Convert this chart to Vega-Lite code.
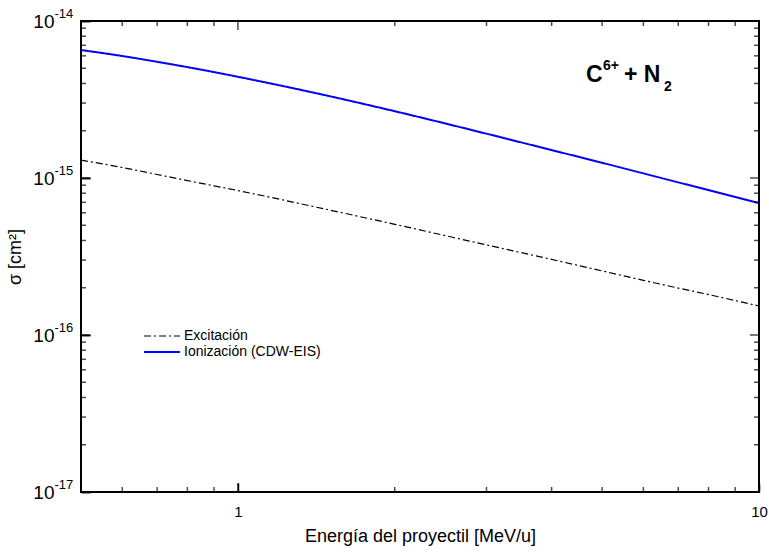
{
  "$schema": "https://vega.github.io/schema/vega-lite/v6.json",
  "width": 678,
  "height": 471,
  "autosize": {"type": "none"},
  "padding": {"left": 81, "top": 21, "right": 10, "bottom": 64},
  "background": "white",
  "config": {
    "font": "Liberation Sans",
    "view": {"stroke": "black", "strokeWidth": 2},
    "axis": {
      "grid": false,
      "domain": false,
      "ticks": true,
      "zindex": 1,
      "tickColor": "black",
      "tickWidth": 1.5,
      "labelColor": "black",
      "titleColor": "black",
      "titleFontWeight": "normal",
      "labelFlush": false
    }
  },
  "datasets": {
    "curvas": [
      {"E": 0.5, "sigma": 1.30e-15, "serie": "Excitación"},
      {"E": 0.6, "sigma": 1.167e-15, "serie": "Excitación"},
      {"E": 0.7, "sigma": 1.053e-15, "serie": "Excitación"},
      {"E": 0.8, "sigma": 9.63e-16, "serie": "Excitación"},
      {"E": 0.9, "sigma": 8.92e-16, "serie": "Excitación"},
      {"E": 1.0, "sigma": 8.32e-16, "serie": "Excitación"},
      {"E": 1.5, "sigma": 6.25e-16, "serie": "Excitación"},
      {"E": 2.0, "sigma": 5.07e-16, "serie": "Excitación"},
      {"E": 3.0, "sigma": 3.75e-16, "serie": "Excitación"},
      {"E": 4.0, "sigma": 3.03e-16, "serie": "Excitación"},
      {"E": 5.0, "sigma": 2.56e-16, "serie": "Excitación"},
      {"E": 6.0, "sigma": 2.23e-16, "serie": "Excitación"},
      {"E": 7.0, "sigma": 1.99e-16, "serie": "Excitación"},
      {"E": 8.0, "sigma": 1.81e-16, "serie": "Excitación"},
      {"E": 10.0, "sigma": 1.53e-16, "serie": "Excitación"},
      {"E": 0.5, "sigma": 6.535e-15, "serie": "Ionización (CDW-EIS)"},
      {"E": 0.6, "sigma": 5.984e-15, "serie": "Ionización (CDW-EIS)"},
      {"E": 0.7, "sigma": 5.496e-15, "serie": "Ionización (CDW-EIS)"},
      {"E": 0.8, "sigma": 5.085e-15, "serie": "Ionización (CDW-EIS)"},
      {"E": 0.9, "sigma": 4.726e-15, "serie": "Ionización (CDW-EIS)"},
      {"E": 1.0, "sigma": 4.412e-15, "serie": "Ionización (CDW-EIS)"},
      {"E": 1.5, "sigma": 3.319e-15, "serie": "Ionización (CDW-EIS)"},
      {"E": 2.0, "sigma": 2.663e-15, "serie": "Ionización (CDW-EIS)"},
      {"E": 3.0, "sigma": 1.915e-15, "serie": "Ionización (CDW-EIS)"},
      {"E": 4.0, "sigma": 1.506e-15, "serie": "Ionización (CDW-EIS)"},
      {"E": 5.0, "sigma": 1.250e-15, "serie": "Ionización (CDW-EIS)"},
      {"E": 6.0, "sigma": 1.070e-15, "serie": "Ionización (CDW-EIS)"},
      {"E": 7.0, "sigma": 9.376e-16, "serie": "Ionización (CDW-EIS)"},
      {"E": 8.0, "sigma": 8.376e-16, "serie": "Ionización (CDW-EIS)"},
      {"E": 10.0, "sigma": 6.918e-16, "serie": "Ionización (CDW-EIS)"}
    ],
    "marcasX": [
      {"valor": 0.6, "tipo": "menor"}, {"valor": 0.7, "tipo": "menor"}, {"valor": 0.8, "tipo": "menor"}, {"valor": 0.9, "tipo": "menor"},
      {"valor": 1, "tipo": "mayor"},
      {"valor": 2, "tipo": "menor"}, {"valor": 3, "tipo": "menor"}, {"valor": 4, "tipo": "menor"}, {"valor": 5, "tipo": "menor"},
      {"valor": 6, "tipo": "menor"}, {"valor": 7, "tipo": "menor"}, {"valor": 8, "tipo": "menor"}, {"valor": 9, "tipo": "menor"}
    ],
    "marcasY": [
      {"valor": 2e-17, "tipo": "menor"}, {"valor": 3e-17, "tipo": "menor"}, {"valor": 4e-17, "tipo": "menor"}, {"valor": 5e-17, "tipo": "menor"},
      {"valor": 6e-17, "tipo": "menor"}, {"valor": 7e-17, "tipo": "menor"}, {"valor": 8e-17, "tipo": "menor"}, {"valor": 9e-17, "tipo": "menor"},
      {"valor": 1e-16, "tipo": "mayor"},
      {"valor": 2e-16, "tipo": "menor"}, {"valor": 3e-16, "tipo": "menor"}, {"valor": 4e-16, "tipo": "menor"}, {"valor": 5e-16, "tipo": "menor"},
      {"valor": 6e-16, "tipo": "menor"}, {"valor": 7e-16, "tipo": "menor"}, {"valor": 8e-16, "tipo": "menor"}, {"valor": 9e-16, "tipo": "menor"},
      {"valor": 1e-15, "tipo": "mayor"},
      {"valor": 2e-15, "tipo": "menor"}, {"valor": 3e-15, "tipo": "menor"}, {"valor": 4e-15, "tipo": "menor"}, {"valor": 5e-15, "tipo": "menor"},
      {"valor": 6e-15, "tipo": "menor"}, {"valor": 7e-15, "tipo": "menor"}, {"valor": 8e-15, "tipo": "menor"}, {"valor": 9e-15, "tipo": "menor"}
    ],
    "rotulo": [
      {"E": 4.656, "sigma": 4.09e-15}
    ]
  },
  "resolve": {"axis": {"x": "independent", "y": "independent"}},
  "layer": [
    {
      "data": {"name": "curvas"},
      "mark": {"type": "line", "clip": true, "interpolate": "monotone"},
      "encoding": {
        "x": {
          "field": "E", "type": "quantitative",
          "scale": {"type": "log", "domain": [0.5, 10], "nice": false},
          "axis": {
            "orient": "bottom", "values": [1, 10], "labelExpr": "datum.value",
            "offset": -9, "tickSize": 9, "labelFontSize": 15, "labelPadding": 12,
            "title": "Energía del proyectil [MeV/u]", "titleFontSize": 18, "titlePadding": 8
          }
        },
        "y": {
          "field": "sigma", "type": "quantitative",
          "scale": {"type": "log", "domain": [1e-17, 1e-14], "nice": false},
          "axis": {
            "orient": "left", "values": [1e-17, 1e-16, 1e-15, 1e-14], "labelExpr": "'10'",
            "offset": -9, "tickSize": 9, "labelFontSize": 19, "labelPadding": 27, "labelAlign": "right",
            "title": "σ [cm²]", "titleFontSize": 18, "titlePadding": 8
          }
        },
        "color": {
          "field": "serie", "type": "nominal",
          "scale": {"domain": ["Excitación", "Ionización (CDW-EIS)"], "range": ["black", "#0000ff"]},
          "legend": {
            "title": null, "orient": "none", "legendX": 74, "legendY": 308,
            "labelFontSize": 14, "labelColor": "black", "labelOffset": 15,
            "symbolType": "M-3,0H3", "symbolSize": 144, "padding": 0, "rowPadding": 2
          }
        },
        "strokeDash": {
          "field": "serie", "type": "nominal",
          "scale": {"domain": ["Excitación", "Ionización (CDW-EIS)"], "range": [[7, 3, 2, 3], [1, 0]]}
        },
        "strokeWidth": {
          "field": "serie", "type": "nominal",
          "scale": {"domain": ["Excitación", "Ionización (CDW-EIS)"], "range": [1.2, 2]}
        }
      }
    },
    {
      "data": {"name": "curvas"},
      "mark": {"type": "point", "opacity": 0},
      "encoding": {
        "x": {
          "field": "E", "type": "quantitative",
          "scale": {"type": "log", "domain": [0.5, 10], "nice": false},
          "axis": null
        },
        "y": {
          "field": "sigma", "type": "quantitative",
          "scale": {"type": "log", "domain": [1e-17, 1e-14], "nice": false},
          "axis": {
            "orient": "left", "values": [1e-17, 1e-16, 1e-15, 1e-14],
            "labelExpr": "datum.value > 5e-15 ? '-14' : datum.value > 5e-16 ? '-15' : datum.value > 5e-17 ? '-16' : '-17'",
            "offset": -9, "tickSize": 9, "labelFontSize": 13, "labelPadding": 27, "labelAlign": "left", "labelOffset": -8,
            "title": null
          }
        }
      }
    },
    {
      "data": {"name": "marcasX"},
      "mark": {"type": "tick", "orient": "vertical", "clip": true, "color": "black", "thickness": 1.5},
      "encoding": {
        "x": {"field": "valor", "type": "quantitative", "scale": {"type": "log", "domain": [0.5, 10], "nice": false}, "axis": null},
        "y": {"datum": 1e-17, "type": "quantitative", "scale": {"type": "log", "domain": [1e-17, 1e-14], "nice": false}, "axis": null},
        "size": {"field": "tipo", "type": "nominal", "scale": {"domain": ["mayor", "menor"], "range": [18, 10]}, "legend": null}
      }
    },
    {
      "data": {"name": "marcasX"},
      "mark": {"type": "tick", "orient": "vertical", "clip": true, "color": "black", "thickness": 1.5},
      "encoding": {
        "x": {"field": "valor", "type": "quantitative", "scale": {"type": "log", "domain": [0.5, 10], "nice": false}, "axis": null},
        "y": {"datum": 1e-14, "type": "quantitative", "scale": {"type": "log", "domain": [1e-17, 1e-14], "nice": false}, "axis": null},
        "size": {"field": "tipo", "type": "nominal", "scale": {"domain": ["mayor", "menor"], "range": [18, 10]}, "legend": null}
      }
    },
    {
      "data": {"name": "marcasY"},
      "mark": {"type": "tick", "orient": "horizontal", "clip": true, "color": "black", "thickness": 1.5},
      "encoding": {
        "x": {"datum": 0.5, "type": "quantitative", "scale": {"type": "log", "domain": [0.5, 10], "nice": false}, "axis": null},
        "y": {"field": "valor", "type": "quantitative", "scale": {"type": "log", "domain": [1e-17, 1e-14], "nice": false}, "axis": null},
        "size": {"field": "tipo", "type": "nominal", "scale": {"domain": ["mayor", "menor"], "range": [18, 10]}, "legend": null}
      }
    },
    {
      "data": {"name": "marcasY"},
      "mark": {"type": "tick", "orient": "horizontal", "clip": true, "color": "black", "thickness": 1.5},
      "encoding": {
        "x": {"datum": 10, "type": "quantitative", "scale": {"type": "log", "domain": [0.5, 10], "nice": false}, "axis": null},
        "y": {"field": "valor", "type": "quantitative", "scale": {"type": "log", "domain": [1e-17, 1e-14], "nice": false}, "axis": null},
        "size": {"field": "tipo", "type": "nominal", "scale": {"domain": ["mayor", "menor"], "range": [18, 10]}, "legend": null}
      }
    },
    {
      "data": {"name": "rotulo"},
      "mark": {"type": "text", "text": "C", "align": "left", "baseline": "alphabetic", "fontSize": 23, "fontWeight": "bold", "color": "black"},
      "encoding": {
        "x": {"field": "E", "type": "quantitative", "scale": {"type": "log", "domain": [0.5, 10], "nice": false}, "axis": null},
        "y": {"field": "sigma", "type": "quantitative", "scale": {"type": "log", "domain": [1e-17, 1e-14], "nice": false}, "axis": null}
      }
    },
    {
      "data": {"name": "rotulo"},
      "mark": {"type": "text", "text": "6+", "align": "left", "baseline": "alphabetic", "fontSize": 14, "fontWeight": "bold", "color": "black", "dx": 17, "dy": -12},
      "encoding": {
        "x": {"field": "E", "type": "quantitative", "scale": {"type": "log", "domain": [0.5, 10], "nice": false}, "axis": null},
        "y": {"field": "sigma", "type": "quantitative", "scale": {"type": "log", "domain": [1e-17, 1e-14], "nice": false}, "axis": null}
      }
    },
    {
      "data": {"name": "rotulo"},
      "mark": {"type": "text", "text": "+ N", "align": "left", "baseline": "alphabetic", "fontSize": 23, "fontWeight": "bold", "color": "black", "dx": 38},
      "encoding": {
        "x": {"field": "E", "type": "quantitative", "scale": {"type": "log", "domain": [0.5, 10], "nice": false}, "axis": null},
        "y": {"field": "sigma", "type": "quantitative", "scale": {"type": "log", "domain": [1e-17, 1e-14], "nice": false}, "axis": null}
      }
    },
    {
      "data": {"name": "rotulo"},
      "mark": {"type": "text", "text": "2", "align": "left", "baseline": "alphabetic", "fontSize": 14, "fontWeight": "bold", "color": "black", "dx": 78, "dy": 9},
      "encoding": {
        "x": {"field": "E", "type": "quantitative", "scale": {"type": "log", "domain": [0.5, 10], "nice": false}, "axis": null},
        "y": {"field": "sigma", "type": "quantitative", "scale": {"type": "log", "domain": [1e-17, 1e-14], "nice": false}, "axis": null}
      }
    }
  ]
}
